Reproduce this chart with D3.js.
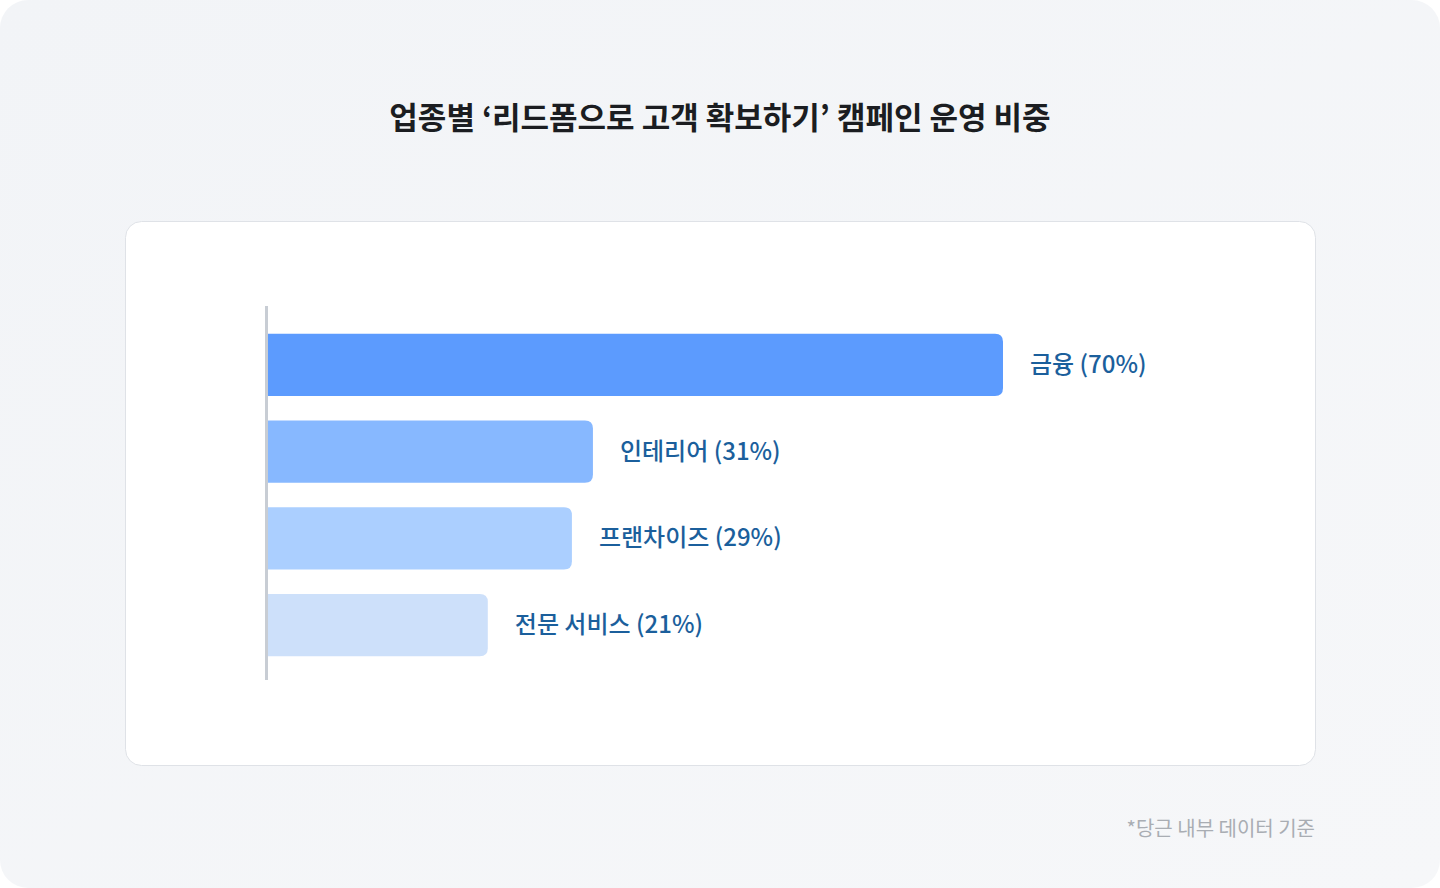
<!DOCTYPE html><html><head><meta charset="utf-8"><script src="https://cdn.jsdelivr.net/npm/d3@7"></script>
<style>body{margin:0;background:#fff}svg{display:block}</style></head><body><svg width="1440" height="888"></svg>
<script>
const categories=["금융","인테리어","프랜차이즈","전문 서비스"];
const values=[70,31,29,21];
const colors=["#5c9bfe","#87b8ff","#abcfff","#cde0fa"];
const svg=d3.select("svg");
const defs=svg.append("defs");
const g=defs.append("linearGradient").attr("id","bg").attr("x1",0).attr("y1",0).attr("x2",1).attr("y2",1);
g.append("stop").attr("offset",0).attr("stop-color","#f2f4f7");g.append("stop").attr("offset",1).attr("stop-color","#f6f7f9");
svg.append("rect").attr("width",1440).attr("height",888).attr("rx",28).attr("fill","url(#bg)");
svg.append("text").attr("x",720).attr("y",129).attr("text-anchor","middle").attr("font-family","Noto Sans CJK KR").attr("font-weight",700).attr("font-size",31).attr("fill","#1b1d21").text("업종별 ‘리드폼으로 고객 확보하기’ 캠페인 운영 비중");
svg.append("rect").attr("x",125.5).attr("y",221.5).attr("width",1190).attr("height",544).attr("rx",16).attr("fill","#fff").attr("stroke","#dfe2e7");
const x=d3.scaleLinear().domain([0,70]).range([267,1003]);
const y=d3.scaleBand().domain(categories).range([325,665]).paddingInner(0.28).paddingOuter(0.1);
svg.selectAll("path.bar").data(categories).join("path").attr("fill",(d,i)=>colors[i]).attr("d",(d,i)=>{
 const x0=x(0),x1=x(values[i]),y0=y(d),h=y.bandwidth(),r=8;
 return `M${x0},${y0}H${x1-r}Q${x1},${y0} ${x1},${y0+r}V${y0+h-r}Q${x1},${y0+h} ${x1-r},${y0+h}H${x0}Z`;});
svg.append("line").attr("x1",266.5).attr("x2",266.5).attr("y1",306).attr("y2",680).attr("stroke","#c8cdd4").attr("stroke-width",3);
svg.selectAll("text.lbl").data(categories).join("text").attr("x",(d,i)=>x(values[i])+27).attr("y",d=>y(d)+y.bandwidth()/2+8)
 .attr("font-family","Noto Sans CJK KR").attr("font-weight",500).attr("font-size",24).attr("fill","#1b5f9c").text((d,i)=>`${d} (${values[i]}%)`);
svg.append("text").attr("x",1315).attr("y",836).attr("text-anchor","end").attr("font-family","Noto Sans CJK KR").attr("font-size",20).attr("fill","#a9adb3").text("*당근 내부 데이터 기준");
</script></body></html>
